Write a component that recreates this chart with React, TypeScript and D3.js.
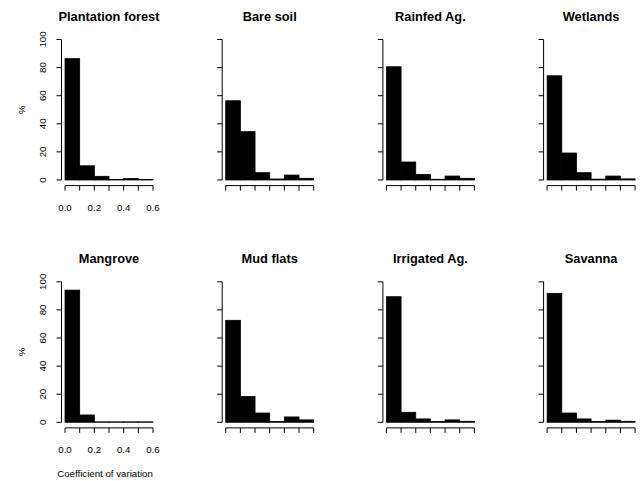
import React, { useEffect } from 'react'
import * as d3 from 'd3'

// histogram bins of the coefficient of variation (0-0.1, 0.1-0.2, ... 0.5-0.6), in %
const titles = [
  'Plantation forest',
  'Bare soil',
  'Rainfed Ag.',
  'Wetlands',
  'Mangrove',
  'Mud flats',
  'Irrigated Ag.',
  'Savanna',
]
const binEdges = [0, 0.1, 0.2, 0.3, 0.4, 0.5, 0.6]
const plantation = [86.4, 10.1, 2.6, 0.4, 1.1, 0.4]
const bareSoil = [56.4, 34.4, 5.2, 0.7, 3.5, 1.2]
const rainfed = [80.6, 12.8, 4.0, 0.5, 2.8, 1.2]
const wetlands = [74.2, 19.2, 5.2, 0.6, 2.8, 0.8]
const mangrove = [94.1, 5.2, 0.3, 0.3, 0.3, 0.3]
const mudFlats = [72.6, 18.4, 6.6, 0.5, 3.8, 1.7]
const irrigated = [89.4, 7.1, 2.4, 0.5, 1.7, 0.7]
const savanna = [91.8, 6.6, 2.4, 0.5, 1.5, 0.7]
const series = [plantation, bareSoil, rainfed, wetlands, mangrove, mudFlats, irrigated, savanna]

const xTicks = [0, 0.1, 0.2, 0.3, 0.4, 0.5, 0.6]
const xTickLabels = ['0.0', '0.2', '0.4', '0.6']
const yTicks = [0, 20, 40, 60, 80, 100]

const W = 641
const H = 481
const font = "'Liberation Sans', Arial, Helvetica, sans-serif"
const colStep = 160.7
const rowStep = 242.3

function Panel({ idx }: { idx: number }) {
  const col = idx % 4
  const row = Math.floor(idx / 4)
  const left = 61.5 + col * colStep
  const right = 156.5 + col * colStep
  const top = 33.9 + row * rowStep
  const bottom = 185.6 + row * rowStep

  const x = d3.scaleLinear().domain([-0.024, 0.624]).range([left, right])
  const y = d3.scaleLinear().domain([-4, 104]).range([bottom, top])
  const values = series[idx]
  const cx = (left + right) / 2
  const showLabels = col === 0

  return (
    <g>
      <text
        x={cx}
        y={20.5 + row * rowStep}
        textAnchor="middle"
        fontWeight="bold"
        fontSize={12.8}
        fontFamily={font}
      >
        {titles[idx]}
      </text>
      {values.map((v, i) => (
        <rect
          key={i}
          x={x(binEdges[i])}
          y={y(v)}
          width={x(binEdges[i + 1]) - x(binEdges[i])}
          height={y(0) - y(v)}
          fill="#000"
          stroke="#000"
          strokeWidth={0.8}
        />
      ))}
      {/* y axis */}
      <line x1={left} x2={left} y1={y(0)} y2={y(100)} stroke="#000" />
      {yTicks.map((t) => (
        <line key={t} x1={left - 5} x2={left} y1={y(t)} y2={y(t)} stroke="#000" />
      ))}
      {showLabels &&
        yTicks.map((t) => (
          <text
            key={t}
            transform={`translate(45.5,${y(t)}) rotate(-90)`}
            textAnchor="middle"
            fontSize={9.7}
            fontFamily={font}
          >
            {t}
          </text>
        ))}
      {showLabels && (
        <text
          transform={`translate(24.5,${(top + bottom) / 2}) rotate(-90)`}
          textAnchor="middle"
          fontSize={9.7}
          fontFamily={font}
        >
          %
        </text>
      )}
      {/* x axis */}
      <line x1={x(0)} x2={x(0.6)} y1={bottom} y2={bottom} stroke="#000" />
      {xTicks.map((t) => (
        <line key={t} x1={x(t)} x2={x(t)} y1={bottom} y2={bottom + 5} stroke="#000" />
      ))}
      {showLabels &&
        xTickLabels.map((t) => (
          <text
            key={t}
            x={x(+t)}
            y={211 + row * rowStep}
            textAnchor="middle"
            fontSize={9.7}
            fontFamily={font}
          >
            {t}
          </text>
        ))}
      {showLabels && row === 1 && (
        <text x={cx - 4} y={477} textAnchor="middle" fontSize={9.7} fontFamily={font}>
          Coefficient of variation
        </text>
      )}
    </g>
  )
}

export default function App() {
  useEffect(() => {
    document.body.style.margin = '0'
  }, [])

  return (
    <svg width={W} height={H} style={{ display: 'block', background: '#fff' }}>
      <rect width={W} height={H} fill="#fff" />
      {titles.map((_, i) => (
        <Panel key={i} idx={i} />
      ))}
    </svg>
  )
}
